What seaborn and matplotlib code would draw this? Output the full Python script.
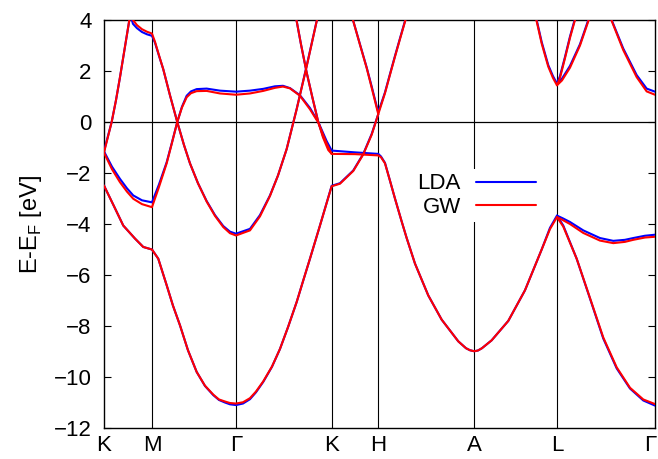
import matplotlib
matplotlib.use('Agg')
import matplotlib.pyplot as plt
import matplotlib.transforms as mtransforms
import pandas as pd
import seaborn as sns
from matplotlib.lines import Line2D

# high-symmetry points along the k-path (path length in arbitrary units)
kpt_labels = ['K', 'M', 'Γ', 'K', 'H', 'A', 'L', 'Γ']
kpt_pos = [0, 48, 132, 227.7, 274.3, 370.3, 453, 551]

# bands: k, LDA energy, GW energy (eV, relative to E_F)
band1_k = [0, 10, 19.3, 31, 39.3, 48, 54.3, 62.7, 69, 76, 84, 92.7, 101, 109.3, 115, 121, 126, 132,
           139, 146, 152, 159.3, 168, 176, 184, 192.7, 199, 206, 216, 227.7,
           236, 249.3, 259.3, 267.7, 274.3]
band1_lda = [-2.49, -3.3, -4.06, -4.57, -4.9, -5.0, -5.36, -6.4, -7.2, -7.97, -8.95, -9.8, -10.35,
             -10.71, -10.9, -11.0, -11.07, -11.1,
             -11.04, -10.87, -10.6, -10.19, -9.6, -8.9, -8.05, -7.06, -6.25, -5.36, -4.06, -2.5,
             -2.4, -1.9, -1.25, -0.47, 0.31]
band1_gw = [-2.49, -3.3, -4.06, -4.57, -4.9, -5.0, -5.36, -6.4, -7.2, -7.97, -8.95, -9.8, -10.34,
            -10.69, -10.88, -10.96, -11.02, -11.04,
            -10.99, -10.83, -10.57, -10.17, -9.59, -8.9, -8.05, -7.06, -6.25, -5.36, -4.06, -2.52,
            -2.42, -1.92, -1.27, -0.5, 0.31]

band2_k = [0, 8, 16, 23, 29.3, 38, 48,
           55, 62.7, 68, 73.3, 78, 82.7, 87, 92.7, 102.7, 116, 132,
           146, 159.3, 171, 179, 186, 196, 206, 214.3, 222.7, 227.7,
           251, 274.3,
           277, 281, 286, 291, 297.7, 302.7, 311, 324.3, 337.7, 354.3, 362, 366, 370.3,
           374, 378, 387.7, 404.3, 421, 437.7, 446, 453,
           459.3, 472.7, 486, 499.3, 512.7, 526, 539.3, 551]
band2_lda = [-1.15, -1.75, -2.23, -2.6, -2.88, -3.07, -3.15,
             -2.45, -1.58, -0.8, 0, 0.6, 1.03, 1.2, 1.29, 1.31, 1.23, 1.19,
             1.23, 1.3, 1.4, 1.42, 1.33, 1.05, 0.55, 0, -0.75, -1.12,
             -1.19, -1.25,
             -1.35, -1.6, -2.3, -3.0, -3.9, -4.55, -5.55, -6.8, -7.75, -8.6, -8.87, -8.95, -8.99,
             -8.96, -8.87, -8.56, -7.8, -6.6, -5.0, -4.15, -3.67,
             -4.06, -5.36, -6.92, -8.49, -9.66, -10.45, -10.92, -11.12]
band2_gw = [-1.2, -1.85, -2.36, -2.73, -3.01, -3.22, -3.34,
            -2.55, -1.62, -0.82, 0, 0.57, 0.97, 1.13, 1.21, 1.22, 1.12, 1.07,
            1.12, 1.22, 1.34, 1.39, 1.32, 1.03, 0.5, -0.02, -0.85, -1.25,
            -1.26, -1.31,
            -1.38, -1.62, -2.3, -3.0, -3.9, -4.55, -5.55, -6.8, -7.75, -8.6, -8.87, -8.95, -8.99,
            -8.96, -8.87, -8.56, -7.8, -6.6, -5.0, -4.2, -3.73,
            -4.1, -5.36, -6.9, -8.45, -9.62, -10.42, -10.88, -11.06]

band3_k = [0, 4, 7.7, 12, 16, 21, 25.3, 26.5, 29, 33, 38, 43, 48,
           51, 55, 59.3, 66, 73.3, 80, 86, 94, 102.7, 111, 119.3, 126, 132,
           146, 156, 166, 174, 182.7, 192.7, 202.7, 212.7, 216]
band3_lda = [-1.15, -0.55, 0, 0.85, 1.75, 2.95, 3.98, 4.2, 3.85, 3.68, 3.53, 3.44, 3.38,
             3.11, 2.6, 2.07, 1.05, 0, -0.9, -1.62, -2.4, -3.1, -3.65, -4.08, -4.3, -4.38,
             -4.19, -3.65, -2.88, -2.1, -1.06, 0.51, 2.2, 3.96, 4.55]
band3_gw = [-1.2, -0.58, 0, 0.85, 1.75, 2.95, 3.98, 4.3, 4.0, 3.8, 3.64, 3.54, 3.47,
            3.15, 2.62, 2.07, 1.05, 0, -0.9, -1.62, -2.4, -3.12, -3.68, -4.12, -4.36, -4.45,
            -4.25, -3.7, -2.9, -2.1, -1.06, 0.5, 2.18, 3.95, 4.53]

band4_k = [190, 192.7, 197, 202.7, 208.5, 214.3, 219, 224.3, 227.7]
band4_lda = [4.5, 3.96, 3.05, 1.94, 0.95, 0, -0.55, -1.0, -1.12]
band4_gw = [4.5, 3.96, 3.05, 1.94, 0.95, 0, -0.6, -1.1, -1.25]

band5_k = [246, 249.3, 256, 262.7, 268, 271, 274.3, 281, 286, 291, 296, 301, 304]
band5_lda = [4.45, 3.96, 3.05, 2.14, 1.35, 0.88, 0.38, 1.16, 1.88, 2.59, 3.28, 3.96, 4.4]
band5_gw = [4.45, 3.96, 3.03, 2.12, 1.3, 0.83, 0.31, 1.13, 1.85, 2.56, 3.25, 3.93, 4.38]

band6_k = [429, 432.7, 437.7, 444.3, 449, 453, 456, 461, 466, 471, 474]
band6_lda = [4.6, 4.0, 3.14, 2.23, 1.8, 1.51, 1.8, 2.55, 3.35, 4.05, 4.5]
band6_gw = [4.55, 3.95, 3.08, 2.17, 1.73, 1.44, 1.73, 2.5, 3.3, 4.0, 4.45]

band7_k = [453, 458, 466, 476, 484.3, 488]
band7_lda = [1.51, 1.7, 2.2, 3.05, 4.0, 4.45]
band7_gw = [1.44, 1.63, 2.13, 3.0, 3.95, 4.4]

band8_k = [504, 507.7, 519.3, 532.7, 542.7, 551]
band8_lda = [4.45, 4.0, 2.88, 1.84, 1.31, 1.19]
band8_gw = [4.42, 3.97, 2.82, 1.76, 1.2, 1.07]

band9_k = [453, 459, 466, 479.3, 496, 509.3, 521, 529.3, 541, 551]
band9_lda = [-3.67, -3.78, -3.92, -4.25, -4.55, -4.66, -4.62, -4.55, -4.46, -4.42]
band9_gw = [-3.73, -3.85, -4.0, -4.35, -4.65, -4.75, -4.7, -4.62, -4.53, -4.5]

bands = [
    (band1_k, band1_lda, band1_gw),
    (band2_k, band2_lda, band2_gw),
    (band3_k, band3_lda, band3_gw),
    (band4_k, band4_lda, band4_gw),
    (band5_k, band5_lda, band5_gw),
    (band6_k, band6_lda, band6_gw),
    (band7_k, band7_lda, band7_gw),
    (band8_k, band8_lda, band8_gw),
    (band9_k, band9_lda, band9_gw),
]

# long-form table for seaborn
frames = []
for i, (k, lda, gw) in enumerate(bands):
    frames.append(pd.DataFrame({'k': k, 'E': lda, 'band': i, 'method': 'LDA'}))
    frames.append(pd.DataFrame({'k': k, 'E': gw, 'band': i, 'method': 'GW'}))
df = pd.concat(frames, ignore_index=True)

sns.set_style('ticks', {'text.color': 'black', 'axes.labelcolor': 'black',
                        'xtick.color': 'black', 'ytick.color': 'black'})
plt.rcParams['font.family'] = ['Liberation Sans', 'DejaVu Sans']

fig, ax = plt.subplots(figsize=(6.58, 4.59), dpi=100)
fig.subplots_adjust(left=0.158, right=0.9954, bottom=0.0675, top=0.9564)

for k in kpt_pos[1:-1]:
    ax.axvline(k, color='black', lw=0.8, zorder=1)
ax.axhline(0, color='black', lw=0.9, zorder=1)

sns.lineplot(data=df, x='k', y='E', hue='method', hue_order=['LDA', 'GW'],
             units='band', estimator=None, sort=False,
             palette={'LDA': 'blue', 'GW': 'red'}, lw=1.5, legend=False,
             ax=ax, zorder=3)

ax.set_xlim(kpt_pos[0], kpt_pos[-1])
ax.set_ylim(-12, 4)
ax.set_xticks(kpt_pos)
ax.set_xticklabels(kpt_labels)
ax.set_yticks(range(-12, 5, 2))
ax.tick_params(axis='x', length=0, pad=5, labelsize=16)
ax.tick_params(axis='y', direction='in', length=5, width=0.8, right=True, pad=9, labelsize=16)
ax.set_xlabel('')
ax.set_ylabel('E-E$_\\mathregular{F}$ [eV]', fontsize=17, labelpad=7)
for s in ax.spines.values():
    s.set_color('black')
    s.set_linewidth(1)

# keep the last Γ inside the canvas
last = ax.get_xticklabels()[-1]
last.set_transform(last.get_transform() + mtransforms.ScaledTranslation(-5 / 100, 0, fig.dpi_scale_trans))

handles = [Line2D([], [], color='blue', lw=1.5), Line2D([], [], color='red', lw=1.5)]
leg = ax.legend(handles, ['LDA', 'GW'], loc='upper right', bbox_to_anchor=(0.793, 0.635),
                markerfirst=False, frameon=True, framealpha=1, fancybox=False,
                fontsize=16, handlelength=2.7, handletextpad=0.7,
                labelspacing=0.1, borderpad=0.2, borderaxespad=0)
leg.get_frame().set_linewidth(0)
leg.set_zorder(5)

fig.savefig('out.png', dpi=100)
